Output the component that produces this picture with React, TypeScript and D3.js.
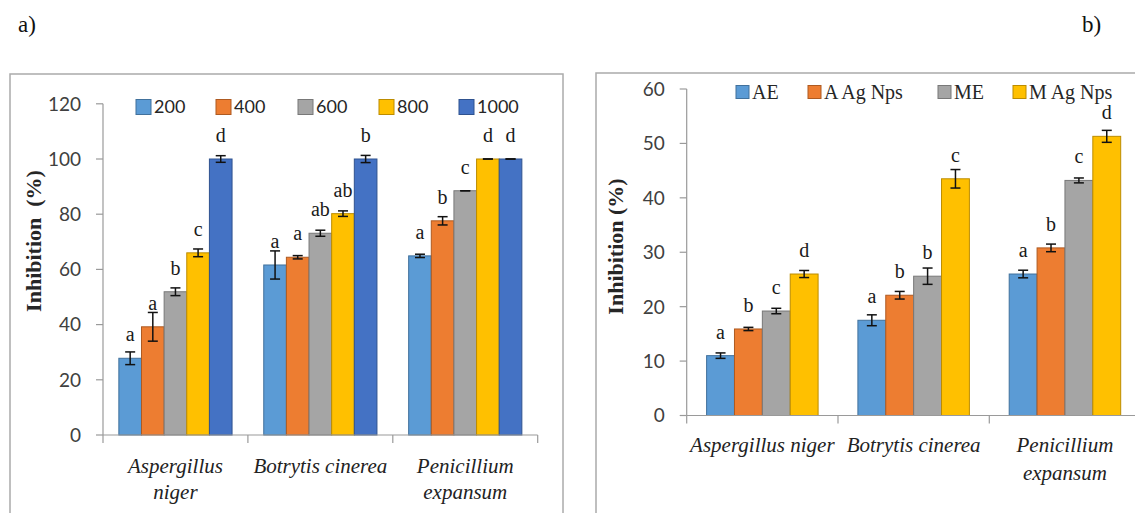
import React from 'react';
import * as d3 from 'd3';

// ---------- DATA ----------
const fungi = ['Aspergillus niger', 'Botrytis cinerea', 'Penicillium expansum'];
const fungiLinesA = [['Aspergillus', 'niger'], ['Botrytis cinerea'], ['Penicillium', 'expansum']];
const fungiLinesB = [['Aspergillus niger'], ['Botrytis cinerea'], ['Penicillium', 'expansum']];

// Panel a: concentrations
const concNames = ['200', '400', '600', '800', '1000'];
const conc200 = [27.8, 61.6, 64.9];
const conc400 = [39.2, 64.4, 77.6];
const conc600 = [51.9, 73.1, 88.5];
const conc800 = [66.0, 80.2, 100];
const conc1000 = [100, 100, 100];
const err200 = [2.3, 5.1, 0.6];
const err400 = [5.2, 0.6, 1.5];
const err600 = [1.4, 1.1, 0];
const err800 = [1.4, 1.0, 0];
const err1000 = [1.2, 1.3, 0];
const let200 = ['a', 'a', 'a'];
const let400 = ['a', 'a', 'b'];
const let600 = ['b', 'ab', 'c'];
const let800 = ['c', 'ab', 'd'];
const let1000 = ['d', 'b', 'd'];
const ticksA = [0, 20, 40, 60, 80, 100, 120];

// Panel b: extracts
const extNames = ['AE', 'A Ag Nps', 'ME', 'M Ag Nps'];
const valAE = [11.0, 17.5, 26.0];
const valAAg = [15.9, 22.1, 30.8];
const valME = [19.2, 25.6, 43.2];
const valMAg = [26.0, 43.5, 51.3];
const errAE = [0.5, 1.0, 0.7];
const errAAg = [0.3, 0.7, 0.7];
const errME = [0.5, 1.5, 0.45];
const errMAg = [0.65, 1.7, 1.1];
const letAE = ['a', 'a', 'a'];
const letAAg = ['b', 'b', 'b'];
const letME = ['c', 'b', 'c'];
const letMAg = ['d', 'c', 'd'];
const ticksB = [0, 10, 20, 30, 40, 50, 60];

// ---------- STYLE ----------
const FILLS = ['#5B9BD5', '#ED7D31', '#A5A5A5', '#FFC000', '#4472C4'];
const STROKES = ['#41719C', '#AE5A21', '#787878', '#BC8C00', '#2F528F'];
const SANS = 'Lato, "Open Sans", sans-serif';
const SERIF = '"Liberation Serif", "Times New Roman", serif';
const AXIS = '#9a9a9a';

type Series = { name: string; values: number[]; errs: number[]; letters: string[] };

type PanelProps = {
  series: Series[];
  catLines: string[][];
  x0: number; x1: number; y0: number; yTop: number; yMax: number; ticks: number[];
  pad: number;
  catBase: number; catGap: number;
  title: string; titleX: number; titleY: number;
  legendX: number[]; legendY: number; legendFont: string; legendSize: number; sw: number;
  tickLabelGap: number;
};

function Panel(p: PanelProps) {
  const x = d3.scaleBand<string>().domain(fungi).range([p.x0, p.x1]).paddingInner(0).paddingOuter(0);
  const names = p.series.map((s) => s.name);
  const xi = d3.scaleBand<string>().domain(names).range([0, x.bandwidth()]).paddingInner(0).paddingOuter(p.pad);
  const y = d3.scaleLinear().domain([0, p.yMax]).range([p.y0, p.yTop]);
  const edges = d3.range(fungi.length + 1).map((i) => p.x0 + i * x.bandwidth());
  return (
    <g>
      {/* y axis */}
      <line x1={p.x0} x2={p.x0} y1={y(0)} y2={y(p.yMax)} stroke={AXIS} strokeWidth={1.2} />
      {p.ticks.map((t) => (
        <g key={t}>
          <line x1={p.x0 - 7} x2={p.x0} y1={y(t)} y2={y(t)} stroke={AXIS} strokeWidth={1.2} />
          <text x={p.x0 - p.tickLabelGap} y={y(t)} dy="0.36em" textAnchor="end" fontFamily={SANS} fontSize={19} fill="#404040">{t}</text>
        </g>
      ))}
      {/* bars */}
      {p.series.map((s, si) => (
        <g key={s.name}>
          {fungi.map((f, fi) => {
            const bx = (x(f) as number) + (xi(s.name) as number);
            const bw = xi.bandwidth();
            const v = s.values[fi];
            const e = s.errs[fi];
            const cx = bx + bw / 2;
            return (
              <g key={f}>
                <rect x={bx} y={y(v)} width={bw} height={y(0) - y(v)} fill={FILLS[si]} stroke={STROKES[si]} strokeWidth={1} />
                <line x1={cx} x2={cx} y1={y(v + e)} y2={y(v - e)} stroke="#111" strokeWidth={1.5} />
                <line x1={cx - 5} x2={cx + 5} y1={y(v + e)} y2={y(v + e)} stroke="#111" strokeWidth={1.5} />
                <line x1={cx - 5} x2={cx + 5} y1={y(v - e)} y2={y(v - e)} stroke="#111" strokeWidth={1.5} />
                <text x={cx} y={y(v) - 17} textAnchor="middle" fontFamily={SERIF} fontSize={20} fill="#1a1a1a">{s.letters[fi]}</text>
              </g>
            );
          })}
        </g>
      ))}
      {/* x axis */}
      <line x1={p.x0} x2={p.x1} y1={y(0)} y2={y(0)} stroke={AXIS} strokeWidth={1.2} />
      {edges.map((ex, i) => (
        <line key={i} x1={ex} x2={ex} y1={y(0)} y2={y(0) + 8} stroke={AXIS} strokeWidth={1.2} />
      ))}
      {fungi.map((f, fi) => (
        <text key={f} textAnchor="middle" fontFamily={SERIF} fontStyle="italic" fontSize={21} fill="#222">
          {p.catLines[fi].map((ln, li) => (
            <tspan key={li} x={(x(f) as number) + x.bandwidth() / 2} y={p.catBase + li * p.catGap}>{ln}</tspan>
          ))}
        </text>
      ))}
      {/* y title */}
      <text transform={`translate(${p.titleX},${p.titleY}) rotate(-90)`} textAnchor="middle" dy="0.35em"
        fontFamily={SERIF} fontWeight="bold" fontSize={22} fill="#262626" style={{ whiteSpace: 'pre' }}>{p.title}</text>
      {/* legend */}
      {p.series.map((s, si) => (
        <g key={s.name}>
          <rect x={p.legendX[si]} y={p.legendY - p.sw / 2} width={p.sw} height={p.sw} fill={FILLS[si]} stroke={STROKES[si]} strokeWidth={1} />
          <text x={p.legendX[si] + p.sw + 3} y={p.legendY} dy="0.35em" fontFamily={p.legendFont} fontSize={p.legendSize} fill="#262626">{s.name}</text>
        </g>
      ))}
    </g>
  );
}

export default function App() {
  const seriesA: Series[] = [
    { name: concNames[0], values: conc200, errs: err200, letters: let200 },
    { name: concNames[1], values: conc400, errs: err400, letters: let400 },
    { name: concNames[2], values: conc600, errs: err600, letters: let600 },
    { name: concNames[3], values: conc800, errs: err800, letters: let800 },
    { name: concNames[4], values: conc1000, errs: err1000, letters: let1000 },
  ];
  const seriesB: Series[] = [
    { name: extNames[0], values: valAE, errs: errAE, letters: letAE },
    { name: extNames[1], values: valAAg, errs: errAAg, letters: letAAg },
    { name: extNames[2], values: valME, errs: errME, letters: letME },
    { name: extNames[3], values: valMAg, errs: errMAg, letters: letMAg },
  ];
  return (
    <svg width={1135} height={513} style={{ position: 'absolute', left: 0, top: 0, background: '#fff' }}>
      <rect x={0} y={0} width={1135} height={513} fill="#fff" />
      <text x={18} y={32} fontFamily={SERIF} fontSize={23} fill="#111">a)</text>
      <text x={1082} y={32} fontFamily={SERIF} fontSize={23} fill="#111">b)</text>
      {/* panel borders */}
      <rect x={10} y={74} width={553} height={460} fill="none" stroke="#ababab" strokeWidth={1.5} />
      <rect x={596} y={73} width={560} height={460} fill="none" stroke="#ababab" strokeWidth={1.5} />
      <Panel series={seriesA} catLines={fungiLinesA} x0={103} x1={537.7} y0={435} yTop={103.8} yMax={120} ticks={ticksA}
        pad={0.7} catBase={473} catGap={26} title={'Inhibition  (%)'} titleX={33} titleY={241}
        legendX={[136, 216, 298, 379, 459]} legendY={107} legendFont={SANS} legendSize={18} sw={15} tickLabelGap={22} />
      <Panel series={seriesB} catLines={fungiLinesB} x0={686.7} x1={1140.6} y0={415.5} yTop={89} yMax={60} ticks={ticksB}
        pad={0.714} catBase={452} catGap={28} title={'Inhibition (%)'} titleX={615} titleY={246.5}
        legendX={[736, 808, 938, 1013]} legendY={92} legendFont={SERIF} legendSize={20} sw={13} tickLabelGap={22} />
    </svg>
  );
}
